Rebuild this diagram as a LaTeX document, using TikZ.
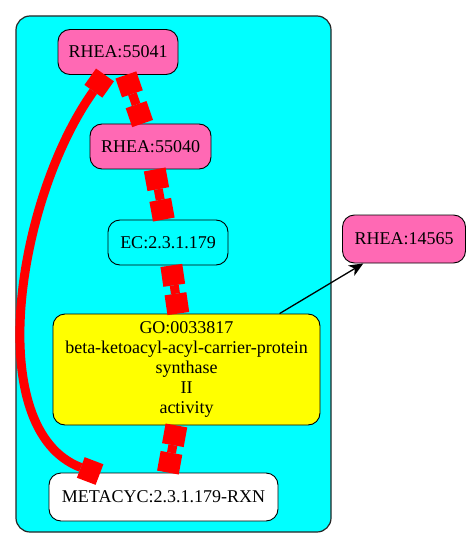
\documentclass[tikz,border=0pt]{standalone}
\usepackage{fontspec}
\setmainfont{Liberation Serif}
\usetikzlibrary{arrows.meta,calc}
\definecolor{rheapink}{HTML}{FF69B4}
\definecolor{clustercyan}{HTML}{00FFFF}
\definecolor{goyellow}{HTML}{FFFF00}
\definecolor{linkred}{HTML}{FF0000}
\tikzset{
  node_base/.style={draw=black,line width=0.9pt,rounded corners=12pt,
    minimum height=45pt,inner sep=3pt,font=\fontsize{18}{20}\selectfont,align=center},
  node_pink/.style={node_base,fill=rheapink},
  node_cyan/.style={node_base,fill=clustercyan},
  node_yellow/.style={node_base,fill=goyellow},
  node_white/.style={node_base,fill=white},
  arr_red/.style={{Square[length=20pt,width=22pt,line width=0pt]}-{Square[length=20pt,width=22pt,line width=0pt]},
    draw=linkred,line width=9pt},
  arr/.style={-{Stealth[length=14pt,width=12pt,inset=4pt]},draw=black,line width=1.3pt},
}

\begin{document}
\begin{tikzpicture}[x=1pt,y=-1pt,
    cluster/.style={draw=black!85,line width=1.2pt,fill=clustercyan,rounded corners=14pt}]
  \useasboundingbox (0,0) rectangle (469,548);

  \draw[cluster] (16,16) rectangle (331,532);

  \node[node_pink,minimum width=120pt] (r41) at (118,52) {RHEA:55041};
  \node[node_pink,minimum width=121pt] (r40) at (150.5,146.5) {RHEA:55040};
  \node[node_cyan,minimum width=120pt] (ec) at (168,242.5) {EC:2.3.1.179};
  \node[node_yellow,minimum width=267pt,minimum height=111pt] (go) at (186.5,369.5)
    {GO:0033817\\beta-ketoacyl-acyl-carrier-protein\\synthase\\II\\activity};
  \node[node_white,minimum width=229pt,minimum height=48pt] (mc) at (163.5,497) {METACYC:2.3.1.179-RXN};
  \node[node_pink,minimum width=123pt,minimum height=48pt] (r65) at (404,239) {RHEA:14565};

  \draw[arr_red] (r41) -- (r40);
  \draw[arr_red] (r40) -- (ec);
  \draw[arr_red] (ec) -- (go);
  \draw[arr_red] (go) -- (mc);
  \draw[arr_red] ($(r41.south)+(-13,0)$) .. controls (16,200) and (-18,430) .. ($(mc.north)+(-64,2)$);
  \draw[arr] (go) -- (r65);
\end{tikzpicture}
\end{document}
